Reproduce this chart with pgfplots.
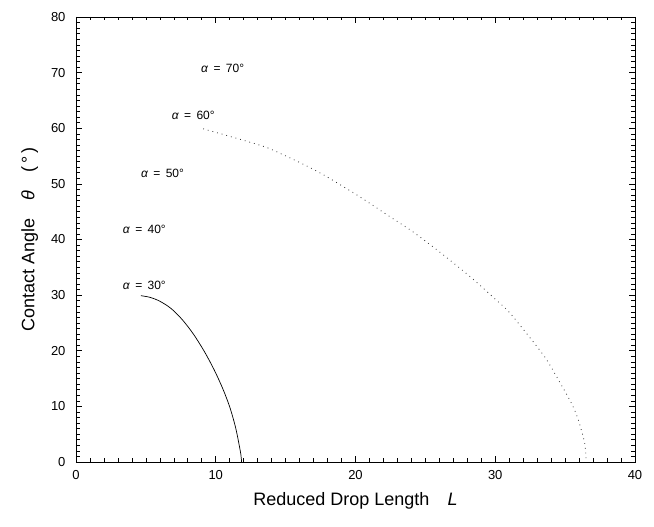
\documentclass[border=0pt]{standalone}
\usepackage{pgfplots}
\pgfplotsset{compat=1.18}
\usepackage{fontspec}
\setmainfont{Liberation Sans}
\begin{document}
\begin{tikzpicture}[x=1pt,y=1pt]
\useasboundingbox (-76,-65) rectangle (578,462);
\begin{axis}[
 at={(0,0)}, anchor=south west,
 scale only axis, width=559pt, height=445pt,
 xmin=0,xmax=40,ymin=0,ymax=80,
 xtick={0,10,20,30,40}, ytick={0,10,...,80},
 minor x tick num=9, minor y tick num=9,
 tick align=inside, major tick length=6pt, minor tick length=3.5pt,
 tick style={black, line width=0.6pt},
 axis line style={line width=0.8pt},
 ticklabel style={font=\fontsize{13}{15}\selectfont},
 xticklabel style={yshift=-5pt},
 yticklabel style={xshift=-7pt},
 /pgf/number format/assume math mode=true,
 xlabel={Reduced Drop Length\quad\textit{L}},
 ylabel={Contact Angle\quad\textit{θ}\quad(\,°\,)},
 label style={font=\fontsize{18}{20}\selectfont},
 xlabel style={yshift=-6pt},
 ylabel style={yshift=6pt},
 clip=false,
]
% alpha = 30 curve
\addplot[black, line width=0.7pt, smooth, tension=0.5] coordinates {
(4.64,29.9) (5.3,29.6) (6.0,28.9) (6.8,27.6) (7.6,25.6) (8.4,23.0)
(9.2,19.8) (9.9,16.5) (10.5,13.2) (11.0,9.9) (11.4,6.4) (11.65,3.4) (11.8,1.3) (11.85,0)
};
% alpha = 60 curve (faint, dotted in scan)
\addplot[black!80, line width=0.8pt, smooth, tension=0.5, dash pattern=on 0.8pt off 4pt] coordinates {
(9.1,59.9) (13.1,57.0) (14.6,55.5) (17.3,52.2) (20.1,48.0) (22.4,44.2)
(24.1,41.4) (26.2,37.4) (28.4,32.9) (29.9,29.5) (30.9,27.2) (31.8,24.5)
(33.0,20.7) (33.7,18.3) (34.4,15.3) (35.4,10.8) (35.9,7.9) (36.4,3.4) (36.5,0)
};
\node[anchor=west, font=\fontsize{12}{14}\selectfont] at (axis cs:8.7,70.7) {\textit{α}\, = \,70°};
\node[anchor=west, font=\fontsize{12}{14}\selectfont] at (axis cs:6.6,62.4) {\textit{α}\, = \,60°};
\node[anchor=west, font=\fontsize{12}{14}\selectfont] at (axis cs:4.4,51.8) {\textit{α}\, = \,50°};
\node[anchor=west, font=\fontsize{12}{14}\selectfont] at (axis cs:3.1,41.9) {\textit{α}\, = \,40°};
\node[anchor=west, font=\fontsize{12}{14}\selectfont] at (axis cs:3.1,31.7) {\textit{α}\, = \,30°};
\end{axis}
\end{tikzpicture}
\end{document}
